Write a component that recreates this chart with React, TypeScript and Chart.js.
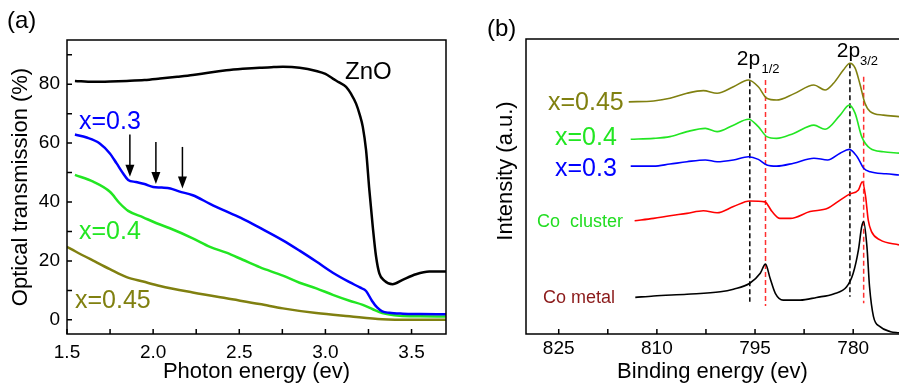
import React, { useEffect, useRef } from 'react';
import { Chart, registerables } from 'chart.js';

Chart.register(...registerables);

const FONT = '"Liberation Sans", Arial, Helvetica, sans-serif';

// ---------------- Panel (a): optical transmission ----------------
const xTicksA = [1.5, 1.75, 2.0, 2.25, 2.5, 2.75, 3.0, 3.25, 3.5];
const xTickLabelsA = ['1.5', '', '2.0', '', '2.5', '', '3.0', '', '3.5'];
const yTicksA = [0, 10, 20, 30, 40, 50, 60, 70, 80, 90];
const yTickLabelsA = ['0', '', '20', '', '40', '', '60', '', '80', ''];

const energyZnO = [1.546, 1.652, 1.75, 1.846, 1.95, 2.04, 2.14, 2.23, 2.33, 2.425, 2.52, 2.618, 2.7, 2.753, 2.85, 2.947, 3.0, 3.043, 3.08, 3.12, 3.15, 3.178, 3.2, 3.217, 3.236, 3.255, 3.275, 3.294, 3.313, 3.342, 3.39, 3.448, 3.526, 3.603, 3.7];
const transZnO = [81.1, 80.8, 80.9, 81.1, 81.4, 81.9, 82.5, 83.1, 84.0, 84.7, 85.2, 85.6, 85.8, 85.9, 85.6, 84.5, 83.5, 81.9, 80.6, 79.1, 76.6, 73.4, 69.5, 65.5, 57.6, 44.1, 31.6, 21.5, 15.8, 13.3, 12.1, 13.6, 15.5, 16.4, 16.4];

const energyX03 = [1.546, 1.614, 1.69, 1.749, 1.788, 1.826, 1.855, 1.9, 1.95, 2.0, 2.05, 2.1, 2.15, 2.23, 2.33, 2.425, 2.52, 2.618, 2.753, 2.85, 2.947, 3.043, 3.14, 3.2, 3.236, 3.27, 3.3, 3.33, 3.37, 3.45, 3.55, 3.7];
const transX03 = [62.9, 61.9, 59.9, 56.5, 53.1, 49.7, 47.5, 46.8, 46.1, 45.1, 44.9, 44.6, 43.6, 42.3, 39.4, 36.8, 34.3, 31.3, 27.0, 23.5, 19.8, 16.0, 12.8, 11.0, 9.8, 6.5, 4.2, 2.9, 2.4, 2.1, 2.0, 1.9];

const energyX04 = [1.546, 1.652, 1.749, 1.807, 1.855, 1.942, 2.02, 2.097, 2.23, 2.33, 2.425, 2.52, 2.618, 2.753, 2.85, 2.947, 3.043, 3.14, 3.217, 3.275, 3.33, 3.43, 3.55, 3.7];
const transX04 = [49.2, 46.9, 43.5, 39.5, 37.0, 34.8, 32.8, 31.1, 27.7, 24.8, 22.8, 20.4, 17.9, 15.0, 12.6, 10.7, 8.5, 6.5, 5.1, 3.6, 2.3, 1.4, 1.2, 1.1];

const energyX045 = [1.5, 1.55, 1.652, 1.749, 1.846, 1.942, 2.04, 2.23, 2.425, 2.618, 2.753, 2.947, 3.14, 3.33, 3.5, 3.7];
const transX045 = [24.8, 23.2, 20.1, 17.2, 14.5, 13.0, 11.5, 9.3, 7.3, 5.4, 3.9, 2.3, 1.2, 0.2, 0.0, 0.0];

const arrowEnergy = [1.865, 2.016, 2.17];
const arrowTop = [62.9, 60.4, 58.7];
const arrowTip = [48.6, 46.1, 44.6];

// ---------------- Panel (b): XPS Co 2p ----------------
const xTicksB = [825, 817.5, 810, 802.5, 795, 787.5, 780];
const xTickLabelsB = ['825', '', '810', '', '795', '', '780'];

const beX045 = [814.3, 810.5, 808, 805.4, 802.9, 800.8, 798.3, 796, 794.5, 793.2, 791.7, 789.1, 786, 784.3, 783, 781.5, 780.5, 779.7, 779, 778.2, 777.4, 775.4, 773];
const intX045 = [78.7, 79.0, 79.9, 81.6, 82.5, 81.6, 83.8, 86.1, 83.8, 79.9, 79.3, 81.4, 84.4, 82.7, 85.0, 89.5, 91.8, 90.1, 85.0, 78.2, 75.4, 74.2, 73.7];

const beX04 = [814, 810.5, 808, 805.4, 802.6, 800.8, 798.3, 796, 794.5, 793.2, 791.7, 789.1, 786, 784.3, 782, 780.6, 779.7, 778.7, 777.4, 775.4, 773];
const intX04 = [66.0, 66.3, 66.9, 68.6, 69.7, 68.6, 70.8, 72.8, 70.3, 66.9, 66.3, 68.0, 70.8, 69.4, 74.2, 77.6, 74.8, 66.9, 62.9, 61.8, 61.3];

const beX03 = [814, 810.5, 808, 805.4, 802.6, 800.8, 798.3, 796, 794.5, 793.2, 791.7, 789.1, 786, 783.9, 782, 780.6, 779.4, 778.4, 777.4, 775, 773];
const intX03 = [56.9, 56.9, 57.6, 58.4, 59.0, 58.4, 59.0, 60.1, 59.2, 57.3, 56.9, 57.9, 59.6, 59.0, 61.3, 62.6, 60.1, 56.2, 55.0, 54.3, 53.9];

const beCluster = [813.4, 810.5, 808, 805.4, 802.9, 800.8, 798.3, 795.8, 793.5, 792.4, 791.2, 789.6, 786.6, 783.9, 782, 780.5, 779.2, 778.6, 778.1, 777.7, 777.2, 775.9, 773];
const intCluster = [38.4, 39.2, 40.1, 40.9, 41.8, 41.1, 43.2, 45.1, 44.8, 41.5, 39.2, 39.2, 41.5, 42.6, 45.4, 47.5, 48.8, 51.6, 46.5, 38.6, 34.7, 31.9, 30.2];

const beMetal = [813.3, 810.5, 805.4, 800.3, 798.3, 795.8, 794.2, 793.4, 792.7, 791.9, 790.7, 788.1, 785.6, 783, 781, 780, 779.2, 778.7, 778.4, 777.9, 777.5, 776.9, 775.9, 774.3, 773];
const intMetal = [12.4, 12.9, 13.5, 14.3, 15.2, 17.2, 20.6, 23.7, 18.9, 13.8, 11.5, 11.5, 12.4, 13.6, 16.0, 20.6, 28.5, 36.4, 38.1, 29.6, 16.0, 5.9, 2.5, 0.8, 0.4];

const dashEnergy = [795.8, 793.4, 780.5, 778.4];
const dashTop = [88.4, 86.1, 91.8, 87.2];
const dashBottom = [10.9, 9.5, 12.6, 10.4];
const dashColors = ['#000000', '#ff3030', '#000000', '#ff3030'];

const OLIVE = '#808010';
const GREEN = '#22e622';
const BLUE = '#0000ff';
const RED = '#ff0000';

const pts = (xs: number[], ys: number[]) => xs.map((x, i) => ({ x, y: ys[i] }));

function line(data: { x: number; y: number }[], color: string, width: number) {
  return {
    data,
    borderColor: color,
    backgroundColor: color,
    borderWidth: width,
    pointRadius: 0,
    cubicInterpolationMode: 'monotone' as const,
    fill: false,
  };
}

function text(ctx: CanvasRenderingContext2D, s: string, x: number, y: number, size: number, color: string) {
  ctx.font = `${size}px ${FONT}`;
  ctx.fillStyle = color;
  ctx.textAlign = 'left';
  ctx.textBaseline = 'alphabetic';
  ctx.fillText(s, x, y);
}

const decorA = {
  id: 'decorA',
  afterDraw(chart: any) {
    const { ctx, chartArea } = chart;
    const { left, top, right, bottom } = chartArea;
    const xs = chart.scales.x;
    const ys = chart.scales.y;
    ctx.save();
    ctx.strokeStyle = '#000';
    ctx.lineWidth = 1.5;
    ctx.strokeRect(left, top, right - left, bottom - top);
    ctx.beginPath();
    xTicksA.forEach((v) => {
      const p = xs.getPixelForValue(v);
      ctx.moveTo(p, bottom);
      ctx.lineTo(p, bottom - 5);
    });
    yTicksA.forEach((v) => {
      const p = ys.getPixelForValue(v);
      ctx.moveTo(left, p);
      ctx.lineTo(left + 5, p);
    });
    ctx.stroke();
    // arrows
    ctx.fillStyle = '#000';
    arrowEnergy.forEach((e, i) => {
      const px = xs.getPixelForValue(e);
      const y1 = ys.getPixelForValue(arrowTop[i]);
      const y2 = ys.getPixelForValue(arrowTip[i]);
      ctx.beginPath();
      ctx.lineWidth = 1.5;
      ctx.moveTo(px, y1);
      ctx.lineTo(px, y2 - 10);
      ctx.stroke();
      ctx.beginPath();
      ctx.moveTo(px - 4.5, y2 - 12);
      ctx.lineTo(px + 4.5, y2 - 12);
      ctx.lineTo(px, y2);
      ctx.closePath();
      ctx.fill();
    });
    text(ctx, '(a)', 7, 27.5, 24, '#000');
    text(ctx, 'ZnO', 345, 78.5, 24, '#000');
    text(ctx, 'x=0.3', 79, 128.5, 25, BLUE);
    text(ctx, 'x=0.4', 79, 238.5, 25, GREEN);
    text(ctx, 'x=0.45', 75, 308, 25, OLIVE);
    ctx.restore();
  },
};

const decorB = {
  id: 'decorB',
  afterDraw(chart: any) {
    const { ctx, chartArea } = chart;
    const { left, top, right, bottom } = chartArea;
    const xs = chart.scales.x;
    ctx.save();
    ctx.strokeStyle = '#000';
    ctx.lineWidth = 1.5;
    ctx.beginPath();
    ctx.moveTo(right + 1, top);
    ctx.lineTo(left, top);
    ctx.lineTo(left, bottom);
    ctx.lineTo(right + 1, bottom);
    xTicksB.forEach((v) => {
      const p = xs.getPixelForValue(v);
      ctx.moveTo(p, bottom);
      ctx.lineTo(p, bottom - 5);
    });
    ctx.stroke();
    text(ctx, '(b)', 37, 36, 24, '#000');
    text(ctx, 'x=0.45', 98, 109.5, 25, OLIVE);
    text(ctx, 'x=0.4', 105, 145, 25, GREEN);
    text(ctx, 'x=0.3', 105, 176, 25, BLUE);
    text(ctx, 'Co  cluster', 87, 227.3, 18, '#22dd22');
    text(ctx, 'Co metal', 93, 303.3, 18, '#8b1a1a');
    text(ctx, '2p', 286.7, 65, 21, '#000');
    text(ctx, '1/2', 311.5, 72.7, 13, '#000');
    text(ctx, '2p', 386.7, 57.3, 21, '#000');
    text(ctx, '3/2', 410, 65, 13, '#000');
    // y-axis title
    ctx.translate(56.4, 171);
    ctx.rotate(-Math.PI / 2);
    ctx.font = `22px ${FONT}`;
    ctx.fillStyle = '#000';
    ctx.textAlign = 'center';
    ctx.textBaseline = 'middle';
    ctx.fillText('Intensity (a.u.)', 0, 0);
    ctx.restore();
  },
};

export default function App() {
  const refA = useRef<HTMLCanvasElement>(null);
  const refB = useRef<HTMLCanvasElement>(null);

  useEffect(() => {
    const chartA = new Chart(refA.current as HTMLCanvasElement, {
      type: 'line',
      data: {
        datasets: [
          line(pts(energyZnO, transZnO), '#000000', 2.5),
          line(pts(energyX03, transX03), BLUE, 2.5),
          line(pts(energyX04, transX04), GREEN, 2.5),
          line(pts(energyX045, transX045), OLIVE, 2.5),
        ] as any,
      },
      options: {
        responsive: false,
        animation: false,
        devicePixelRatio: 1,
        layout: { padding: { left: 0, top: 40, right: 4, bottom: 0 } },
        plugins: { legend: { display: false }, tooltip: { enabled: false } },
        scales: {
          x: {
            type: 'linear',
            min: 1.5,
            max: 3.7,
            grid: { display: false, drawTicks: false },
            border: { display: false },
            afterBuildTicks: (s: any) => {
              s.ticks = xTicksA.map((v) => ({ value: v }));
            },
            afterFit: (s: any) => {
              s.height = 53;
            },
            ticks: {
              autoSkip: false,
              maxRotation: 0,
              padding: 7.3,
              color: '#000',
              font: { family: FONT, size: 19 },
              callback: (_v: any, i: number) => xTickLabelsA[i],
            },
            title: {
              display: true,
              text: 'Photon energy (ev)',
              color: '#000',
              font: { family: FONT, size: 22 },
              padding: { top: 0, bottom: 1.9 },
            },
          },
          y: {
            type: 'linear',
            min: -4.8,
            max: 95,
            grid: { display: false, drawTicks: false },
            border: { display: false },
            afterBuildTicks: (s: any) => {
              s.ticks = yTicksA.map((v) => ({ value: v }));
            },
            afterFit: (s: any) => {
              s.width = 67;
            },
            ticks: {
              autoSkip: false,
              padding: 7,
              color: '#000',
              font: { family: FONT, size: 19 },
              callback: (_v: any, i: number) => yTickLabelsA[i],
            },
            title: {
              display: true,
              text: 'Optical transmission (%)',
              color: '#000',
              font: { family: FONT, size: 22 },
              padding: { top: 7.5, bottom: 0 },
            },
          },
        },
      } as any,
      plugins: [decorA],
    });

    const dashSets = dashEnergy.map((e, i) => ({
      data: [
        { x: e, y: dashTop[i] },
        { x: e, y: dashBottom[i] },
      ],
      borderColor: dashColors[i],
      borderWidth: 1.5,
      borderDash: [5, 3],
      pointRadius: 0,
      fill: false,
    }));

    const chartB = new Chart(refB.current as HTMLCanvasElement, {
      type: 'line',
      data: {
        datasets: [
          line(pts(beX045, intX045), OLIVE, 1.6),
          line(pts(beX04, intX04), GREEN, 1.6),
          line(pts(beX03, intX03), BLUE, 1.6),
          line(pts(beCluster, intCluster), RED, 1.6),
          line(pts(beMetal, intMetal), '#000000', 1.6),
          ...dashSets,
        ] as any,
      },
      options: {
        responsive: false,
        animation: false,
        devicePixelRatio: 1,
        layout: { padding: { left: 0, top: 39, right: 0, bottom: 0 } },
        plugins: { legend: { display: false }, tooltip: { enabled: false } },
        scales: {
          x: {
            type: 'linear',
            reverse: true,
            min: 773,
            max: 830,
            grid: { display: false, drawTicks: false },
            border: { display: false },
            afterBuildTicks: (s: any) => {
              s.ticks = xTicksB.map((v) => ({ value: v }));
            },
            afterFit: (s: any) => {
              s.height = 53;
            },
            ticks: {
              autoSkip: false,
              maxRotation: 0,
              padding: 3.3,
              color: '#000',
              font: { family: FONT, size: 19 },
              callback: (_v: any, i: number) => xTickLabelsB[i],
            },
            title: {
              display: true,
              text: 'Binding energy (ev)',
              color: '#000',
              font: { family: FONT, size: 22 },
              padding: { top: 0, bottom: 1.4 },
            },
          },
          y: {
            type: 'linear',
            min: 0,
            max: 100,
            grid: { display: false, drawTicks: false },
            border: { display: false },
            afterFit: (s: any) => {
              s.width = 76;
            },
            ticks: { display: false },
            title: { display: false },
          },
        },
      } as any,
      plugins: [decorB],
    });

    return () => {
      chartA.destroy();
      chartB.destroy();
    };
  }, []);

  return (
    <div style={{ position: 'absolute', left: 0, top: 0, width: 899, height: 387, background: '#ffffff' }}>
      <canvas
        ref={refA}
        width={450}
        height={387}
        style={{ position: 'absolute', left: 0, top: 0, width: 450, height: 387 }}
      />
      <canvas
        ref={refB}
        width={449}
        height={387}
        style={{ position: 'absolute', left: 450, top: 0, width: 449, height: 387 }}
      />
    </div>
  );
}
